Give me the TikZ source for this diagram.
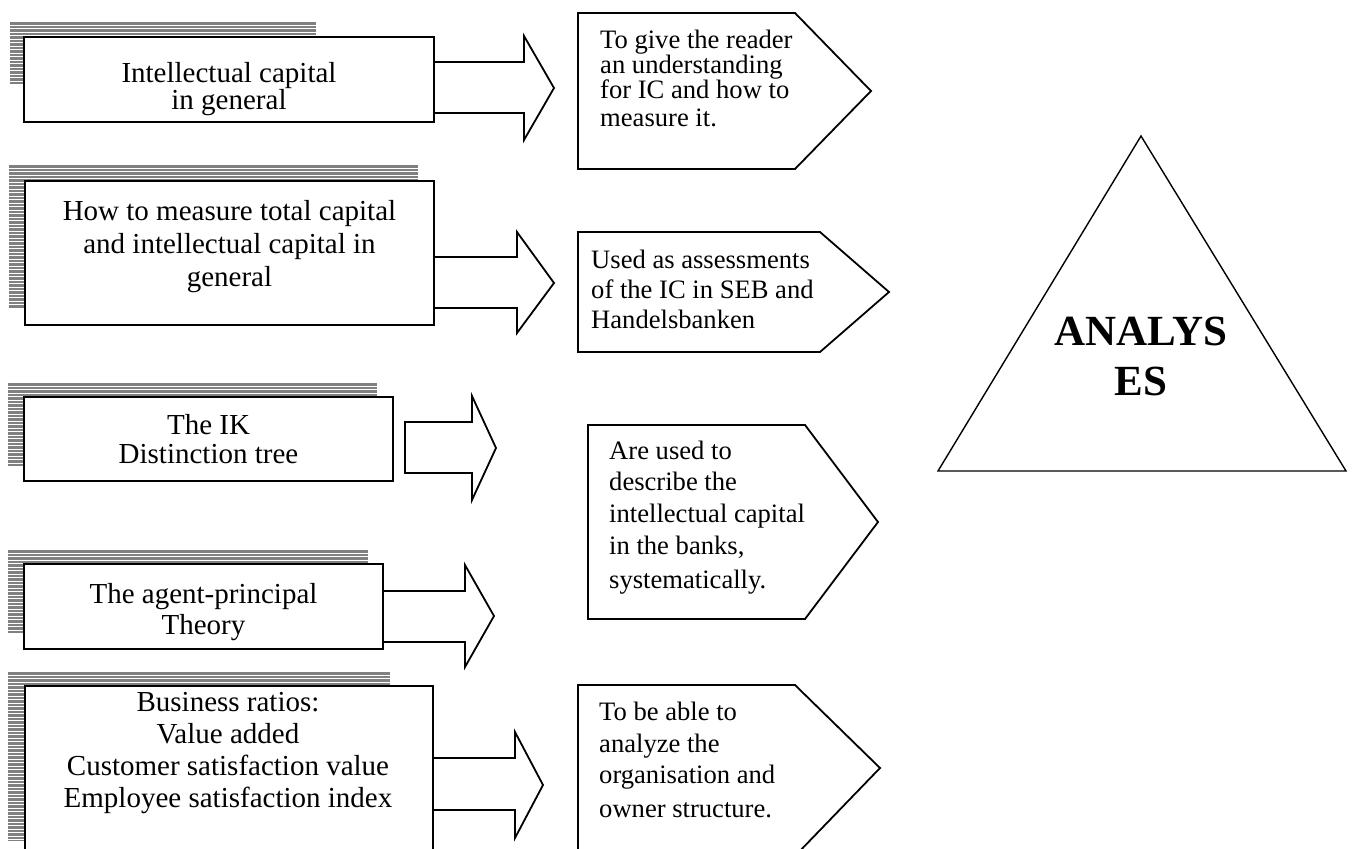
\documentclass[tikz,border=0pt]{standalone}
\usepackage{fontspec}
\setmainfont{Liberation Serif}
\begin{document}
\begin{tikzpicture}[x=1pt,y=-1pt,
  outline/.style={draw=black,line width=1.8pt,line join=miter},
  thin outline/.style={draw=black,line width=1.4pt,line join=miter},
  framebox/.style={outline,fill=white,rectangle,inner sep=0pt},
  boxline/.style={anchor=base,inner sep=0pt,font=\fontsize{29}{33}\selectfont},
  noteline/.style={anchor=base west,inner sep=0pt,font=\fontsize{26.6}{30}\selectfont},
  bigline/.style={anchor=base,inner sep=0pt,font=\fontsize{43}{50}\selectfont\bfseries},
]
\definecolor{stripegray}{RGB}{128,128,128}
% page frame
\clip (0,0) rectangle (1353,849);
\fill[white] (0,0) rectangle (1353,849);

% striped shadow behind a box: #1,#2 upper left corner, #3,#4 lower right corner
\newcommand\stripeshadow[4]{%
  \begin{scope}
    \clip (#1,#2) rectangle (#3,#4);
    \foreach \k in {0,...,50}
      \fill[stripegray] (#1,#2+3.5*\k) rectangle (#3,#2+3.5*\k+2.5);
  \end{scope}}

% ---------------- left column: topic boxes ----------------
\stripeshadow{10}{22}{316}{83}
\node[framebox,minimum width=410pt,minimum height=85pt] (b1) at (229,79.5) {};
\node[boxline] (t1a) at (229,82) {Intellectual capital};
\node[boxline] (t1b) at (229,109) {in general};

\stripeshadow{9}{165}{418}{307}
\node[framebox,minimum width=409pt,minimum height=144pt] (b2) at (229.5,253) {};
\node[boxline] (t2a) at (229.5,220) {How to measure total capital};
\node[boxline] (t2b) at (229.5,253) {and intellectual capital in};
\node[boxline] (t2c) at (229.5,286) {general};

\stripeshadow{8}{383}{377}{465}
\node[framebox,minimum width=369pt,minimum height=84pt] (b3) at (208.5,439) {};
\node[boxline] (t3a) at (208.5,434) {The IK};
\node[boxline] (t3b) at (208.5,463) {Distinction tree};

\stripeshadow{8}{550}{368}{633}
\node[framebox,minimum width=359pt,minimum height=85pt] (b4) at (203.5,606.5) {};
\node[boxline] (t4a) at (203.5,603) {The agent-principal};
\node[boxline] (t4b) at (203.5,634) {Theory};

\stripeshadow{8}{672}{390}{840}
\node[framebox,minimum width=408pt,minimum height=200pt,anchor=north west] (b5) at (24,685) {};
\node[boxline] (t5a) at (228,711) {Business ratios:};
\node[boxline] (t5b) at (228,743) {Value added};
\node[boxline] (t5c) at (228,775) {Customer satisfaction value};
\node[boxline] (t5d) at (228,807) {Employee satisfaction index};

% ---------------- block arrows ----------------
% attached to the box edge: left end left open
\draw[outline] (b1.east |- 0,62) -- (524,62) -- (524,36) -- (554,88) -- (524,140) -- (524,113) -- (b1.east |- 0,113);
\draw[outline] (b2.east |- 0,257) -- (517,257) -- (517,232) -- (554,283) -- (517,333) -- (517,308) -- (b2.east |- 0,308);
\draw[outline] (405,422) -- (472,422) -- (472,396) -- (496,448) -- (472,500) -- (472,473) -- (405,473) -- cycle;
\draw[outline] (b4.east |- 0,591) -- (465,591) -- (465,565) -- (494,616) -- (465,667) -- (465,642) -- (b4.east |- 0,642);
\draw[outline] (b5.east |- 0,758) -- (515,758) -- (515,732) -- (543,785) -- (515,838) -- (515,810) -- (b5.east |- 0,810);

% ---------------- pointed note boxes ----------------
\draw[outline] (578,13) -- (795,13) -- (871,91) -- (795,169) -- (578,169) -- cycle;
\node[noteline] (n1a) at (600,48) {To give the reader};
\node[noteline] (n1b) at (600,73) {an understanding};
\node[noteline] (n1c) at (600,98) {for IC and how to};
\node[noteline] (n1d) at (600,126) {measure it.};

\draw[outline] (578,232) -- (820,232) -- (889,292) -- (820,352) -- (578,352) -- cycle;
\node[noteline] (n2a) at (591,268) {Used as assessments};
\node[noteline] (n2b) at (591,298) {of the IC in SEB and};
\node[noteline] (n2c) at (591,328) {Handelsbanken};

\draw[outline] (588,425) -- (805,425) -- (878,522) -- (805,619) -- (588,619) -- cycle;
\node[noteline] (n3a) at (609,459) {Are used to};
\node[noteline] (n3b) at (609,490) {describe the};
\node[noteline] (n3c) at (609,522) {intellectual capital};
\node[noteline] (n3d) at (609,554) {in the banks,};
\node[noteline] (n3e) at (609,588) {systematically.};

\draw[outline] (578,685) -- (795,685) -- (880,768) -- (795,856) -- (578,856) -- cycle;
\node[noteline] (n4a) at (599,720) {To be able to};
\node[noteline] (n4b) at (599,752) {analyze the};
\node[noteline] (n4c) at (599,783) {organisation and};
\node[noteline] (n4d) at (599,817) {owner structure.};

% ---------------- triangle ----------------
\draw[thin outline] (1141,136) -- (1346,471) -- (938,471) -- cycle;
\node[bigline] (an1) at (1141,345) {ANALYS};
\node[bigline] (an2) at (1141,395) {ES};
\end{tikzpicture}
\end{document}
